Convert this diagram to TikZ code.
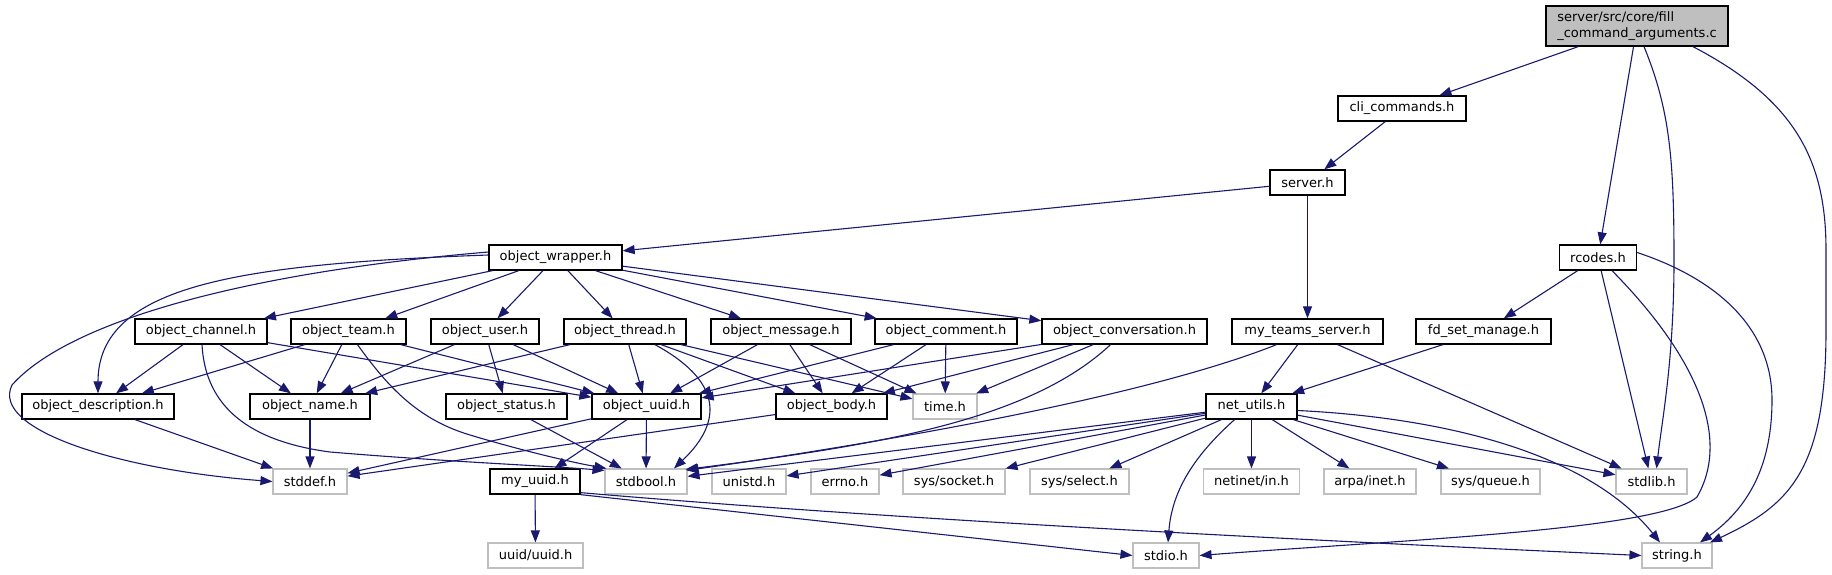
\documentclass[tikz,border=0pt]{standalone}
\usepackage{fontspec}
\setmainfont{DejaVu Sans}
\usetikzlibrary{arrows.meta}
\definecolor{edgeblue}{HTML}{191970}
\definecolor{sysgray}{HTML}{BFBFBF}
\begin{document}
\begin{tikzpicture}[x=1pt,y=-1pt,
  box/.style={draw=black, line width=1.3pt, fill=white, minimum height=25pt, inner sep=0pt, font=\fontsize{13}{16}\selectfont, text=black},
  sys/.style={box, draw=sysgray, line width=1.1pt},
  e/.style={draw=edgeblue, line width=1.1pt, -{Triangle[length=12pt,width=9pt]}},
]
\useasboundingbox[fill=white] (0,0) rectangle (1832,575);
% top
\node[box, fill=sysgray, minimum width=182pt, minimum height=40pt, align=left] (main) at (1637,26) {server/src/core/fill\\\_command\_arguments.c};
\node[box, minimum width=128pt] (cli) at (1402,108.5) {cli\_commands.h};
\node[box, minimum width=75pt] (server) at (1307.5,182.5) {server.h};
\node[box, minimum width=133pt] (wrapper) at (555.5,257.5) {object\_wrapper.h};
\node[box, minimum width=77pt] (rcodes) at (1598,257.5) {rcodes.h};
% row 3
\node[box, minimum width=132pt] (channel) at (201,331.5) {object\_channel.h};
\node[box, minimum width=115pt] (team) at (348.5,331.5) {object\_team.h};
\node[box, minimum width=108pt] (user) at (485,331.5) {object\_user.h};
\node[box, minimum width=122pt] (thread) at (625,331.5) {object\_thread.h};
\node[box, minimum width=140pt] (message) at (781,331.5) {object\_message.h};
\node[box, minimum width=142pt] (comment) at (946,331.5) {object\_comment.h};
\node[box, minimum width=165pt] (conv) at (1124.5,331.5) {object\_conversation.h};
\node[box, minimum width=151pt] (myteams) at (1307.5,331.5) {my\_teams\_server.h};
\node[box, minimum width=135pt] (fdset) at (1483.5,331.5) {fd\_set\_manage.h};
% row 4
\node[box, minimum width=152pt] (descr) at (98,406.5) {object\_description.h};
\node[box, minimum width=120pt] (name) at (310,406.5) {object\_name.h};
\node[box, minimum width=121pt] (status) at (506.5,406.5) {object\_status.h};
\node[box, minimum width=109pt] (uuid) at (646.5,406.5) {object\_uuid.h};
\node[box, minimum width=111pt] (body) at (831.5,406.5) {object\_body.h};
\node[sys, minimum width=64pt] (time) at (945,406.5) {time.h};
\node[box, minimum width=91pt] (net) at (1251.5,406.5) {net\_utils.h};
% row 5
\node[sys, minimum width=74pt] (stddef) at (310,481.5) {stddef.h};
\node[box, minimum width=90pt] (myuuid) at (535,481.5) {my\_uuid.h};
\node[sys, minimum width=82pt] (stdbool) at (646,481.5) {stdbool.h};
\node[sys, minimum width=74pt] (unistd) at (749,481.5) {unistd.h};
\node[sys, minimum width=68pt] (errno) at (845,481.5) {errno.h};
\node[sys, minimum width=102pt] (socket) at (954,481.5) {sys/socket.h};
\node[sys, minimum width=99pt] (select) at (1079.5,481.5) {sys/select.h};
\node[sys, minimum width=96pt] (netinet) at (1251.5,481.5) {netinet/in.h};
\node[sys, minimum width=92pt] (arpa) at (1370,481.5) {arpa/inet.h};
\node[sys, minimum width=99pt] (queue) at (1490.5,481.5) {sys/queue.h};
\node[sys, minimum width=71pt] (stdlib) at (1651.5,481.5) {stdlib.h};
% row 6
\node[sys, minimum width=95pt] (uuiduuid) at (535.5,555.5) {uuid/uuid.h};
\node[sys, minimum width=66pt] (stdio) at (1166,555.5) {stdio.h};
\node[sys, minimum width=70pt] (string) at (1677,555.5) {string.h};

% edges from main
\draw[e] (main) -- (cli);
\draw[e] (main) -- (rcodes);
\draw[e] ([xshift=7pt]main.south) .. controls (1670,110) and (1674,160) .. (1674,260) .. controls (1674,360) and (1662,420) .. ([xshift=5pt]stdlib.north);
\draw[e] ([xshift=56pt]main.south) .. controls (1795,100) and (1826,160) .. (1826,250) -- (1826,330) .. controls (1826,470) and (1790,505) .. ([xshift=33pt]string.north);
\draw[e] (cli) -- (server);
\draw[e] (server) -- (wrapper);
\draw[e] (server) -- (myteams);
% wrapper
\draw[e] ([yshift=2.5pt]wrapper.west) .. controls (240,264) and (98,285) .. (descr.north);
\draw[e] ([yshift=5.5pt]wrapper.west) .. controls (250,272) and (70,320) .. (12,385) .. controls (-10,430) and (120,470) .. (stddef.west);
\foreach \t in {channel,team,user,thread,message,comment,conv} \draw[e] (wrapper) -- (\t);
% channel
\draw[e] (channel) -- (descr);
\draw[e] (channel) -- (name);
\draw[e] (channel) -- (uuid);
\draw[e] ([xshift=1pt]channel.south) .. controls (205,400) and (240,440) .. (330,452) .. controls (450,462) and (550,466) .. ([yshift=-2pt]stdbool.north west);
% team
\draw[e] (team) -- (descr);
\draw[e] (team) -- (name);
\draw[e] (team) -- (uuid);
\draw[e] ([xshift=9pt]team.south) .. controls (390,390) and (420,420) .. (470,435) .. controls (520,450) and (570,462) .. ([xshift=2pt]stdbool.north west);
% user
\draw[e] (user) -- (name);
\draw[e] (user) -- (status);
\draw[e] (user) -- (uuid);
% thread
\draw[e] (thread) -- (name);
\draw[e] (thread) -- (uuid);
\draw[e] (thread) -- (body);
\draw[e] (thread) -- (time);
\draw[e] ([xshift=30pt]thread.south) .. controls (720,380) and (725,420) .. ([xshift=28pt]stdbool.north);
% message, comment
\foreach \s in {message,comment} {\draw[e] (\s) -- (uuid); \draw[e] (\s) -- (body); \draw[e] (\s) -- (time);}
% conversation
\draw[e] (conv) -- (uuid);
\draw[e] (conv) -- (body);
\draw[e] (conv) -- (time);
\draw[e] ([xshift=-14pt]conv.south) .. controls (1030,420) and (880,445) .. ([xshift=-2pt,yshift=-1pt]stdbool.north east);
% my_teams_server
\draw[e] (myteams) -- (net);
\draw[e] ([xshift=-31pt]myteams.south) .. controls (1150,395) and (900,440) .. ([xshift=-1pt,yshift=-2pt]stdbool.north east);
\draw[e] (myteams) -- (stdlib);
\draw[e] (fdset) -- (net);
% rcodes
\draw[e] (rcodes) -- (fdset);
\draw[e] (rcodes) -- (stdlib);
\draw[e] ([xshift=14pt]rcodes.south) .. controls (1700,360) and (1730,440) .. (1697,497) .. controls (1660,530) and (1400,540) .. (stdio.east);
\draw[e] ([yshift=5pt]rcodes.east) .. controls (1720,280) and (1772,330) .. (1772,400) .. controls (1772,470) and (1745,510) .. ([xshift=23pt]string.north);
% row 4
\draw[e] (descr) -- (stddef);
\draw[e] (name) -- (stddef);
\draw[e] (status) -- (stdbool);
\draw[e] (uuid) -- (stddef);
\draw[e] (uuid) -- (stdbool);
\draw[e] (uuid) -- (myuuid);
\draw[e] (body) -- (stddef);
% net_utils
\foreach \t in {stdbool,unistd,errno,socket,select,netinet,arpa,queue,stdlib} \draw[e] (net) -- (\t);
\draw[e] ([xshift=-17pt]net.south) .. controls (1195,455) and (1172,490) .. ([xshift=2pt]stdio.north);
\draw[e] ([yshift=-4pt]net.east) .. controls (1450,418) and (1590,455) .. ([xshift=-17pt]string.north);
% my_uuid
\draw[e] (myuuid) -- (uuiduuid);
\draw[e] (myuuid.south east) -- (stdio.west);
\draw[e] ([yshift=2pt]myuuid.south east) .. controls (900,520) and (1300,540) .. (string.west);
\end{tikzpicture}
\end{document}
